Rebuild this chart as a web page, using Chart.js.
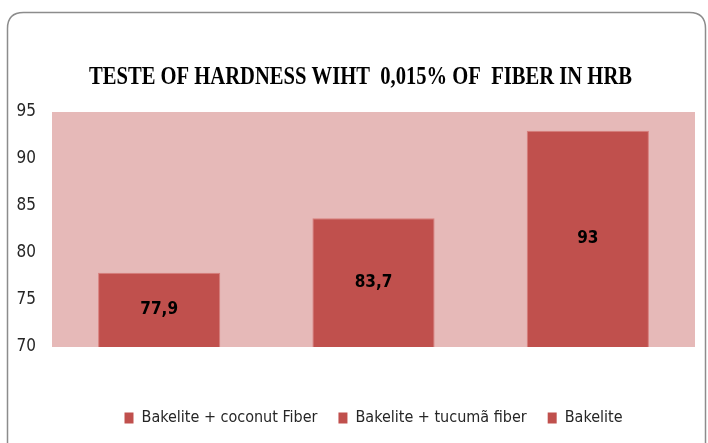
<!DOCTYPE html>
<html>
<head>
<meta charset="utf-8">
<script src="https://cdn.jsdelivr.net/npm/chart.js@4.4.1/dist/chart.umd.min.js"></script>
<style>
  html, body { margin: 0; padding: 0; background: #ffffff; }
  #wrap { width: 708px; height: 443px; position: relative; }
</style>
</head>
<body>
<div id="wrap"><canvas id="c" width="708" height="443"></canvas></div>
<script>
const TITLE = 'TESTE OF HARDNESS WIHT  0,015% OF  FIBER IN HRB';
const CATEGORIES = ['Bakelite + coconut Fiber', 'Bakelite + tucumã fiber', 'Bakelite'];
const HARDNESS = [77.9, 83.7, 93];
const VALUE_LABELS = ['77,9', '83,7', '93'];
const Y_TICKS = [70, 75, 80, 85, 90, 95];

const BAR_COLOR = '#C0504D';
const PLOT_BG = '#E6B9B8';
const NARROW = '"Liberation Sans Narrow", "DejaVu Sans Condensed", "Liberation Sans", sans-serif';

const framePlugin = {
  id: 'frame',
  beforeDraw(chart) {
    const ctx = chart.ctx;
    const a = chart.chartArea;
    ctx.save();
    ctx.fillStyle = '#ffffff';
    ctx.fillRect(0, 0, chart.width, chart.height);
    const x = 7.5, y = 12.5, w = 698, h = 470, r = 16;
    ctx.beginPath();
    ctx.moveTo(x + r, y);
    ctx.lineTo(x + w - r, y);
    ctx.quadraticCurveTo(x + w, y, x + w, y + r);
    ctx.lineTo(x + w, y + h);
    ctx.lineTo(x, y + h);
    ctx.lineTo(x, y + r);
    ctx.quadraticCurveTo(x, y, x + r, y);
    ctx.strokeStyle = '#8c8c8c';
    ctx.lineWidth = 1.5;
    ctx.stroke();
    ctx.fillStyle = PLOT_BG;
    ctx.fillRect(a.left, a.top, a.right - a.left, a.bottom - a.top);
    ctx.font = 'bold 26px "Liberation Serif", "DejaVu Serif", serif';
    ctx.fillStyle = '#000000';
    ctx.textAlign = 'center';
    ctx.textBaseline = 'alphabetic';
    const tw = ctx.measureText(TITLE).width;
    const sx = Math.min(1, 543 / tw);
    ctx.translate(360.5, 84);
    ctx.scale(sx, 1);
    ctx.fillText(TITLE, 0, 0);
    ctx.restore();
  },
  afterDraw(chart) {
    const ctx = chart.ctx;
    const meta = chart.getDatasetMeta(0);
    const bottom = chart.chartArea.bottom;
    ctx.save();
    ctx.font = 'bold 17px ' + NARROW;
    ctx.fillStyle = '#000000';
    ctx.textAlign = 'center';
    ctx.textBaseline = 'middle';
    meta.data.forEach((bar, i) => {
      const cy = (bar.y + Math.min(bar.base, bottom)) / 2;
      ctx.fillText(VALUE_LABELS[i], bar.x, cy);
    });
    ctx.restore();
  }
};

new Chart(document.getElementById('c'), {
  type: 'bar',
  data: {
    labels: CATEGORIES,
    datasets: [{
      label: 'HRB',
      data: HARDNESS,
      backgroundColor: BAR_COLOR,
      borderColor: 'rgba(214,120,118,0.9)',
      borderWidth: 1,
      barPercentage: 0.57,
      categoryPercentage: 1.0
    }]
  },
  options: {
    responsive: false,
    animation: false,
    devicePixelRatio: 1,
    layout: { padding: { top: 112, right: 13, bottom: 7, left: 0 } },
    scales: {
      x: { display: false },
      y: {
        min: 70,
        max: 95,
        grid: { display: false, drawTicks: false },
        border: { display: false },
        afterBuildTicks(scale) { scale.ticks = Y_TICKS.map(v => ({ value: v })); },
        afterFit(scale) { scale.width = 52; },
        ticks: {
          padding: 16,
          color: '#262626',
          font: { family: NARROW, size: 17 }
        }
      }
    },
    plugins: {
      title: { display: false },
      tooltip: { enabled: false },
      legend: {
        display: true,
        position: 'bottom',
        fullSize: false,
        title: { display: true, text: ' ', font: { size: 10 }, padding: { top: 30, bottom: 0 } },
        labels: {
          boxWidth: 9,
          boxHeight: 11,
          padding: 21,
          color: '#262626',
          font: { family: NARROW, size: 16 },
          generateLabels(chart) {
            return CATEGORIES.map((c, i) => ({
              text: c,
              fillStyle: BAR_COLOR,
              strokeStyle: BAR_COLOR,
              fontColor: '#262626',
              lineWidth: 0,
              hidden: false,
              index: i,
              datasetIndex: 0
            }));
          }
        }
      }
    }
  },
  plugins: [framePlugin]
});
</script>
</body>
</html>
